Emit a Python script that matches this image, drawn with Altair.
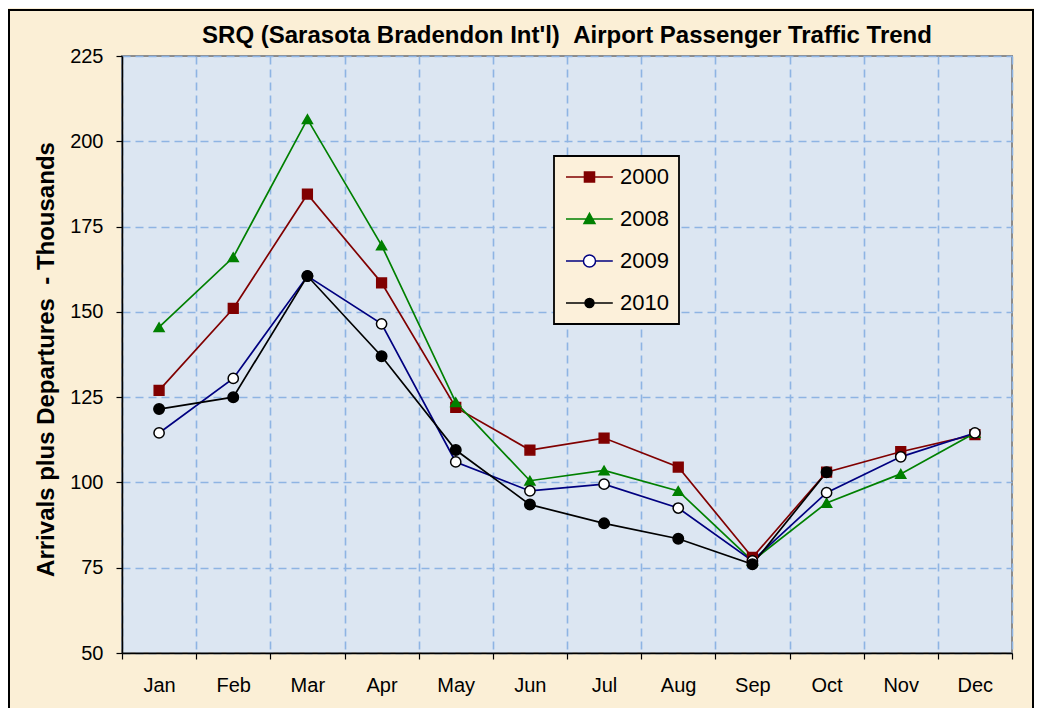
import altair as alt
import pandas as pd

months = ["Jan", "Feb", "Mar", "Apr", "May", "Jun", "Jul", "Aug", "Sep", "Oct", "Nov", "Dec"]
years = ["2000", "2008", "2009", "2010"]
y2000 = [127, 151, 184.5, 158.5, 122, 109.5, 113, 104.5, 78, 103, 109, 114]
y2008 = [145.5, 166, 206.5, 169.5, 123.5, 100.5, 103.5, 97.5, 77, 94, 102.5, 114.5]
y2009 = [114.5, 130.5, 160.5, 146.5, 106, 97.5, 99.5, 92.5, 77, 97, 107.5, 114.5]
y2010 = [121.5, 125, 160.5, 137, 109.5, 93.5, 88, 83.5, 76, 103, None, None]

title_text = "SRQ (Sarasota Bradendon Int'l)\u00a0\u00a0Airport Passenger Traffic Trend"
y_title = "Arrivals plus Departures\u00a0\u00a0- Thousands"

line_colors = ["#800000", "#008000", "#000080", "#000000"]
marker_fill = ["#800000", "#008000", "#ffffff", "#000000"]
marker_stroke = ["#800000", "#008000", "#000000", "#000000"]
marker_shape = ["square", "triangle-up", "circle", "circle"]
marker_size = [95, 110, 150, 85]
legend_shape = [
    "M-1,0H4.2M1.05,-0.56H2.17V0.56H1.05Z",
    "M-1,0H4.2M1.61,-0.62L2.22,0.5H1.0Z",
    "M-1,0H0.94M2.28,0H4.2M0.94,0A0.67,0.67,0,1,0,2.28,0A0.67,0.67,0,1,0,0.94,0Z",
    "M-1,0H4.2M1.11,0A0.5,0.5,0,1,0,2.11,0A0.5,0.5,0,1,0,1.11,0Z",
]

rows = []
for yr, vals in zip(years, [y2000, y2008, y2009, y2010]):
    for i, v in enumerate(vals):
        if v is not None:
            rows.append({"year": yr, "month": months[i], "pos": i + 0.5, "value": v})
df = pd.DataFrame(rows)

FONT = "Liberation Sans"
month_arr = "[" + ",".join("'" + m + "'" for m in months) + "]"

x_enc = alt.X(
    "pos:Q",
    scale=alt.Scale(domain=[0, 12], nice=False, zero=False),
    axis=alt.Axis(
        values=list(range(13)),
        labelExpr=f"datum.value < 12 ? {month_arr}[datum.value] : ''",
        labelOffset=37,
        labelFlush=False,
        labelOverlap=False,
        labelBound=False,
        title=None,
        grid=True,
        gridDash=[8, 5],
        gridColor="#8EB4E3",
        gridWidth=1.6,
        domainColor="#000000",
        domainWidth=1.5,
        tickColor="#000000",
        tickSize=6,
        tickWidth=1.2,
        labelFont=FONT,
        labelFontSize=20,
        labelColor="#000000",
        labelPadding=16,
    ),
)
y_enc = alt.Y(
    "value:Q",
    scale=alt.Scale(domain=[50, 225], nice=False, zero=False),
    axis=alt.Axis(
        values=[50, 75, 100, 125, 150, 175, 200, 225],
        title=y_title,
        titleFont=FONT,
        titleFontSize=24,
        titleFontWeight="bold",
        titleColor="#000000",
        titleX=-76,
        titleY=303,
        titleAngle=270,
        titleAlign="center",
        titleBaseline="middle",
        grid=True,
        gridDash=[8, 5],
        gridColor="#8EB4E3",
        gridWidth=1.6,
        domainColor="#000000",
        domainWidth=1.5,
        tickColor="#000000",
        tickSize=6,
        tickWidth=1.2,
        labelFont=FONT,
        labelFontSize=20,
        labelColor="#000000",
        labelPadding=13,
    ),
)

base = alt.Chart(df)

lines = base.mark_line(strokeWidth=1.7).encode(
    x=x_enc,
    y=y_enc,
    color=alt.Color("year:N", scale=alt.Scale(domain=years, range=line_colors), legend=None),
    detail="year:N",
)

points = base.mark_point(opacity=1, strokeWidth=1.5, filled=True).encode(
    x="pos:Q",
    y="value:Q",
    shape=alt.Shape("year:N", scale=alt.Scale(domain=years, range=marker_shape), legend=None),
    fill=alt.Fill("year:N", scale=alt.Scale(domain=years, range=marker_fill), legend=None),
    stroke=alt.Stroke("year:N", scale=alt.Scale(domain=years, range=marker_stroke), legend=None),
    size=alt.Size("year:N", scale=alt.Scale(domain=years, range=marker_size), legend=None),
)

leg = alt.Legend(
    title=None,
    orient="none",
    legendX=432,
    legendY=100,
    padding=10,
    fillColor="#FCF0DA",
    strokeColor="#000000",
    labelFont=FONT,
    labelFontSize=22,
    labelColor="#000000",
    labelOffset=34,
    symbolSize=324,
    symbolStrokeWidth=1.5,
    symbolFillColor="#ffffff",
    rowPadding=20,
)

legend_layer = base.mark_point(opacity=0, filled=True).encode(
    x="pos:Q",
    y="value:Q",
    shape=alt.Shape("year:N", scale=alt.Scale(domain=years, range=legend_shape), legend=leg),
    fill=alt.Fill("year:N", scale=alt.Scale(domain=years, range=marker_fill), legend=leg),
    stroke=alt.Stroke("year:N", scale=alt.Scale(domain=years, range=line_colors), legend=leg),
)

frame = alt.Chart(pd.DataFrame({"a": [0]})).mark_rect(
    fillOpacity=0, stroke="#000000", strokeWidth=2
).encode(
    x=alt.value(-113), x2=alt.value(911), y=alt.value(-46), y2=alt.value(672)
)

chart = (
    alt.layer(frame, lines, points, legend_layer)
    .resolve_scale(shape="independent", fill="independent", stroke="independent")
    .properties(
        width=890,
        height=597,
        autosize=alt.AutoSizeParams(type="none"),
        padding={"left": 114, "top": 48, "right": 22, "bottom": 55},
        background="#FBEFD6",
        title=alt.TitleParams(
            title_text,
            font=FONT,
            fontSize=24,
            fontWeight="bold",
            color="#000000",
            anchor="middle",
            frame="group",
            baseline="alphabetic",
            offset=14,
            dy=72,
        ),
    )
    .configure_view(fill="#DCE6F2", stroke="#8C8C8C", strokeWidth=2)
    .configure_legend(strokeWidth=1.8)
)

chart.save("out.html", embed_options={"renderer": "svg", "actions": False})
